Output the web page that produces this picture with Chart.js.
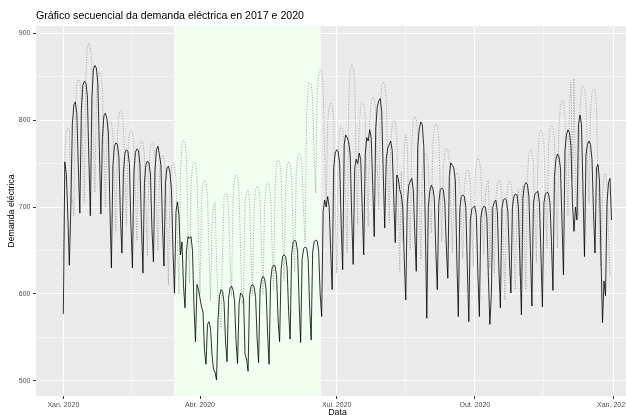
<!DOCTYPE html>
<html>
<head>
<meta charset="utf-8">
<script src="https://cdn.jsdelivr.net/npm/chart.js@4.4.1/dist/chart.umd.min.js"></script>
<style>
  html, body { margin: 0; padding: 0; background: #fff; overflow: hidden; }
  #wrap { width: 626px; height: 415px; overflow: hidden; }
</style>
</head>
<body>
<div id="wrap"><canvas id="grafico" width="660" height="430"></canvas></div>
<script>
// eixo X en días desde o 1 de xaneiro de 2020
const xBreaks = [0, 91, 182, 274, 366];
const xLabels = ['Xan. 2020', 'Abr. 2020', 'Xul. 2020', 'Out. 2020', 'Xan. 2021'];
const yBreaks = [500, 600, 700, 800, 900];

// estado de alarma (días desde o 1 de xaneiro)
const alarmaInicio = 73.7;
const alarmaFin = 171.5;

// 2020: comeza o mércores 1 de xaneiro, logo semanas de luns a domingo
const demanda2020 = [
  577, 752, 738, 690, 633,
  700, 795, 818, 821, 808, 745, 693,
  812, 840, 845, 843, 828, 755, 690,
  825, 858, 863, 860, 842, 765, 692,
  780, 805, 808, 802, 785, 700, 630,
  748, 770, 774, 772, 758, 690, 647,
  740, 762, 766, 764, 750, 680, 630,
  740, 763, 767, 765, 750, 680, 624,
  728, 749, 753, 751, 738, 675, 637,
  742, 766, 770, 760, 748, 680, 632,
  728, 745, 747, 740, 720, 650, 601,
  695, 706, 690, 645, 660, 610, 584,
  650, 666, 664, 666, 650, 585, 545,
  611, 605, 595, 585, 579, 535, 519,
  565, 568, 560, 530, 513, 510, 501,
  570, 598, 605, 603, 590, 545, 522,
  595, 607, 609, 605, 592, 545, 520,
  588, 601, 599, 595, 530, 525, 511,
  598, 609, 611, 608, 597, 550, 521,
  605, 617, 620, 618, 605, 555, 519,
  615, 630, 633, 632, 620, 570, 545,
  628, 643, 645, 643, 630, 580, 548,
  645, 660, 662, 660, 648, 590, 544,
  640, 652, 654, 653, 640, 585, 547,
  648, 660, 662, 661, 650, 600, 574,
  695, 708, 700, 712, 700, 650, 605,
  745, 762, 766, 764, 750, 680, 628,
  772, 783, 780, 775, 760, 690, 634,
  745, 755, 750, 762, 755, 700, 645,
  760, 780, 776, 789, 780, 725, 666,
  790, 815, 822, 825, 810, 740, 676,
  755, 768, 772, 776, 765, 710, 659,
  737, 733, 720, 714, 700, 640, 593,
  705, 725, 730, 733, 720, 670, 626,
  770, 790, 798, 795, 770, 680, 572,
  700, 718, 725, 722, 710, 650, 605,
  705, 720, 722, 720, 705, 655, 618,
  735, 751, 748, 745, 730, 640, 574,
  698, 712, 714, 712, 700, 630, 568,
  685, 698, 700, 701, 690, 625, 574,
  688, 698, 701, 700, 688, 620, 565,
  600, 700, 706, 708, 695, 630, 584,
  698, 708, 710, 708, 695, 640, 601,
  700, 712, 715, 714, 700, 640, 576,
  710, 725, 728, 726, 712, 650, 586,
  705, 715, 717, 718, 705, 645, 585,
  705, 715, 717, 716, 705, 660, 604,
  735, 755, 761, 758, 745, 685, 622,
  765, 783, 789, 786, 770, 705, 672,
  700, 685, 795, 806, 795, 720, 643,
  760, 772, 776, 772, 755, 695, 647,
  745, 749, 730, 640, 567, 615, 598,
  705, 728, 733, 685
];

// 2017: comeza o domingo 1 de xaneiro, semanas de domingo a sábado
const demanda2017 = [
  640, 761, 787, 791, 789, 705, 710,
  690, 815, 842, 847, 845, 830, 760,
  705, 852, 884, 889, 885, 865, 785,
  717, 828, 851, 855, 852, 838, 765,
  700, 780, 796, 799, 797, 785, 725,
  671, 783, 807, 811, 808, 795, 735,
  679, 766, 784, 788, 786, 773, 715,
  661, 753, 772, 776, 774, 760, 700,
  644, 748, 770, 774, 771, 757, 700,
  650, 738, 756, 760, 757, 742, 672,
  610, 723, 747, 751, 748, 733, 662,
  600, 742, 773, 777, 774, 758, 680,
  612, 724, 748, 752, 749, 735, 663,
  600, 705, 727, 731, 728, 714, 648,
  592, 683, 702, 706, 640, 590, 580,
  561, 650, 712, 716, 714, 700, 640,
  598, 709, 733, 737, 735, 720, 650,
  588, 600, 705, 718, 720, 705, 645,
  598, 699, 720, 724, 722, 708, 648,
  600, 702, 724, 728, 726, 712, 652,
  606, 724, 750, 754, 752, 737, 666,
  615, 725, 748, 752, 750, 735, 670,
  625, 735, 758, 762, 760, 745, 690,
  660, 807, 838, 844, 842, 825, 760,
  716, 830, 852, 858, 856, 840, 760,
  700, 796, 815, 820, 818, 800, 700,
  624, 760, 788, 793, 790, 775, 700,
  647, 820, 858, 864, 860, 845, 750,
  680, 792, 816, 820, 818, 805, 735,
  678, 797, 822, 827, 825, 810, 745,
  697, 815, 840, 844, 842, 826, 750,
  682, 776, 796, 800, 798, 782, 700,
  626, 740, 660, 770, 783, 770, 700,
  651, 773, 800, 804, 802, 787, 710,
  640, 737, 758, 762, 760, 747, 700,
  670, 771, 792, 796, 794, 780, 715,
  660, 746, 764, 768, 766, 752, 700,
  647, 720, 736, 739, 737, 725, 680,
  641, 722, 739, 743, 741, 728, 675,
  632, 731, 752, 756, 754, 740, 685,
  645, 714, 728, 731, 630, 700, 660,
  624, 710, 727, 731, 729, 716, 655,
  593, 703, 726, 730, 728, 714, 650,
  605, 700, 720, 620, 715, 725, 660,
  605, 735, 762, 766, 764, 750, 690,
  636, 758, 785, 789, 787, 772, 710,
  653, 765, 790, 794, 792, 778, 715,
  653, 790, 819, 823, 821, 805, 740,
  690, 815, 844, 730, 848, 720, 700,
  690, 810, 835, 839, 837, 820, 750,
  705, 810, 832, 836, 834, 815, 730,
  660, 632, 715, 735, 739, 725, 665,
  620
];

const fonte = "'Liberation Sans', Arial, sans-serif";

// liñas menores a medio camiño entre as principais, como en ggplot
const medios = a => a.slice(1).map((v, i) => (v + a[i]) / 2);
const xTicks = xBreaks.concat(medios(xBreaks)).sort((a, b) => a - b);
const yTicks = yBreaks.concat(medios(yBreaks)).sort((a, b) => a - b);

const panel = {
  id: 'panel',
  beforeDraw(chart) {
    const {ctx, chartArea: a} = chart;
    ctx.save();
    ctx.fillStyle = '#EBEBEB';
    ctx.fillRect(a.left, a.top, a.width, a.height);
    ctx.restore();
  },
  beforeDatasetsDraw(chart) {
    const {ctx, chartArea: a, scales: {x}} = chart;
    const x0 = x.getPixelForValue(alarmaInicio);
    const x1 = x.getPixelForValue(alarmaFin);
    ctx.save();
    ctx.fillStyle = '#F0FFF0';
    ctx.fillRect(x0, a.top, x1 - x0, a.height);
    ctx.restore();
  }
};

function grella(breaks) {
  return {
    color: '#FFFFFF',
    lineWidth: c => (c.tick && breaks.includes(c.tick.value)) ? 1 : 0.5,
    tickLength: 3,
    tickWidth: 1,
    tickColor: c => (c.tick && breaks.includes(c.tick.value)) ? '#333333' : 'rgba(0,0,0,0)'
  };
}

new Chart(document.getElementById('grafico'), {
  type: 'line',
  data: {
    datasets: [
      {
        label: '2020',
        data: demanda2020.map((v, i) => ({x: i, y: v})),
        borderColor: '#000000',
        borderWidth: 0.8,
        pointRadius: 0,
        tension: 0
      },
      {
        label: '2017',
        data: demanda2017.map((v, i) => ({x: i, y: v})),
        borderColor: '#9C9C9C',
        borderWidth: 0.9,
        borderDash: [1, 1.6],
        pointRadius: 0,
        tension: 0
      }
    ]
  },
  options: {
    responsive: false,
    animation: false,
    events: [],
    layout: { padding: { left: 0, top: 0, right: 21, bottom: 0 } },
    plugins: {
      legend: { display: false },
      tooltip: { enabled: false },
      title: {
        display: true,
        text: 'Gráfico secuencial da demanda eléctrica en 2017 e 2020',
        align: 'start',
        fullSize: false,
        color: '#000000',
        font: { family: fonte, size: 10.6, weight: 'normal' },
        padding: { top: 10.1, bottom: 3.2 }
      }
    },
    scales: {
      x: {
        type: 'linear',
        min: -18.2,
        max: 383.3,
        bounds: 'data',
        afterBuildTicks: s => { s.ticks = xTicks.map(v => ({value: v})); },
        afterFit: s => { s.height = 34; },
        ticks: {
          autoSkip: false,
          maxRotation: 0,
          padding: 1.5,
          color: '#4D4D4D',
          font: { family: fonte, size: 7 },
          callback: v => {
            const i = xBreaks.indexOf(v);
            return i < 0 ? '' : xLabels[i];
          }
        },
        grid: grella(xBreaks),
        border: { display: false },
        title: {
          display: true,
          text: 'Data',
          color: '#000000',
          font: { family: fonte, size: 8.8 },
          padding: { top: 0, bottom: 11.7 }
        }
      },
      y: {
        type: 'linear',
        min: 482.5,
        max: 908.4,
        bounds: 'data',
        afterBuildTicks: s => { s.ticks = yTicks.map(v => ({value: v})); },
        afterFit: s => { s.width = 36; },
        ticks: {
          autoSkip: false,
          padding: 2.5,
          color: '#4D4D4D',
          font: { family: fonte, size: 7 },
          callback: v => yBreaks.includes(v) ? String(v) : ''
        },
        grid: grella(yBreaks),
        border: { display: false },
        title: {
          display: true,
          text: 'Demanda eléctrica',
          color: '#000000',
          font: { family: fonte, size: 8.8 },
          padding: { top: 6.7, bottom: 0 }
        }
      }
    }
  },
  plugins: [panel]
});
</script>
</body>
</html>
